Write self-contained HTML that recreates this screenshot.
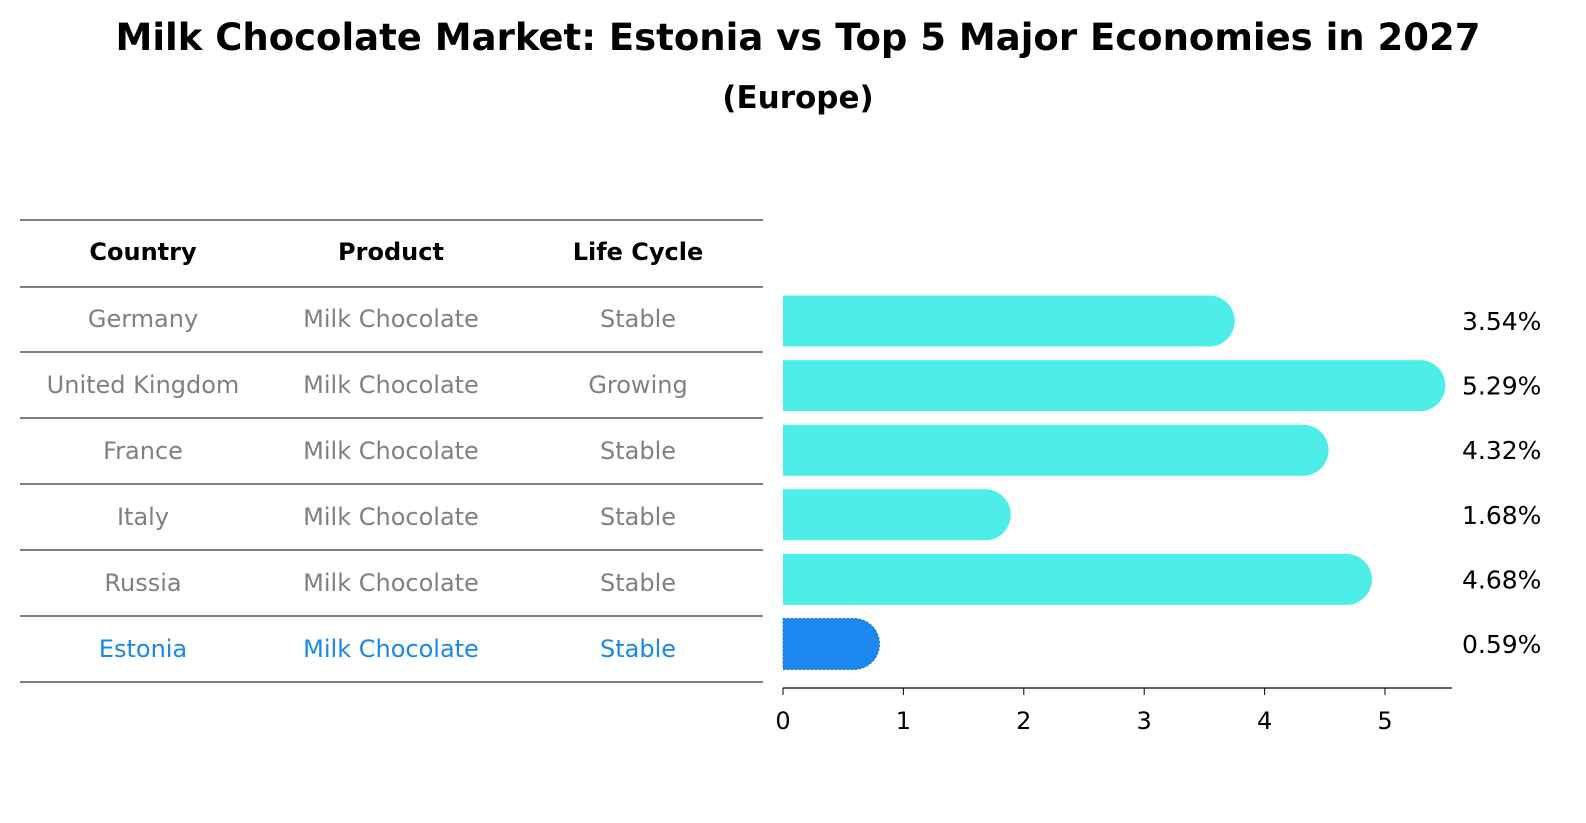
<!DOCTYPE html>
<html><head><meta charset="utf-8"><style>
html,body{margin:0;padding:0;width:1586px;height:823px;overflow:hidden;background:#fff;font-family:"Liberation Sans","DejaVu Sans",sans-serif;}
svg{display:block}
</style></head><body>
<svg id="chart" width="1586" height="823" viewBox="0 0 1586 823" font-family="DejaVu Sans, Liberation Sans, sans-serif">
<text x="798" y="50" text-anchor="middle" font-size="37" font-weight="bold">Milk Chocolate Market: Estonia vs Top 5 Major Economies in 2027</text>
<text x="798" y="108" text-anchor="middle" font-size="31" font-weight="bold">(Europe)</text>
<g id="table"></g>
<g id="bars"></g>
<g id="axis"></g>
</svg>
<script>
const countries=["Germany","United Kingdom","France","Italy","Russia","Estonia"];
const products=["Milk Chocolate","Milk Chocolate","Milk Chocolate","Milk Chocolate","Milk Chocolate","Milk Chocolate"];
const lifeCycles=["Stable","Growing","Stable","Stable","Stable","Stable"];
const growth=[3.54,5.29,4.32,1.68,4.68,0.59];
const tickValues=[0,1,2,3,4,5];

const NS="http://www.w3.org/2000/svg";
function mk(tag,attrs,parent){const e=document.createElementNS(NS,tag);for(const k in attrs)e.setAttribute(k,attrs[k]);parent.appendChild(e);return e;}
const x=v=>783+v*120.4;
const rowY=i=>321+i*64.6;
const tbl=document.getElementById('table');
const lineYs=[220,287,352,418,484,550,616,682];
lineYs.forEach(y=>{const l=mk('line',{x1:20,x2:763,y1:y,y2:y,stroke:'#000','stroke-width':1},tbl);

});
const colX=[143,391,638];
["Country","Product","Life Cycle"].forEach((h,j)=>{const t=mk('text',{x:colX[j],y:260,'text-anchor':'middle','font-size':24,'font-weight':'bold'},tbl);t.textContent=h;

});
countries.forEach((c,i)=>{const last=i===countries.length-1;const col=last?'#1a88e8':'#808080';
[c,products[i],lifeCycles[i]].forEach((v,j)=>{const t=mk('text',{x:colX[j],y:327+i*66,'text-anchor':'middle','font-size':24,fill:col},tbl);t.textContent=v;

});});
const bars=document.getElementById('bars');
growth.forEach((v,i)=>{const last=i===growth.length-1;const h=51,r=25.5,y=rowY(i)-h/2;const x0=x(0),x1=x(v);
const d=`M${x0},${y} H${x1} A${r},${r} 0 0 1 ${x1},${y+h} H${x0} Z`;
const p=mk('path',{d:d,fill:last?'#1a88f0':'#4deee8'},bars);
if(last){p.setAttribute('stroke','#1a6fd0');p.setAttribute('stroke-dasharray','2,2');}


const t=mk('text',{x:1462,y:rowY(i)+9,'font-size':25},bars);t.textContent=v.toFixed(2)+'%';

});
const ax=document.getElementById('axis');
mk('line',{x1:783,x2:1452,y1:688,y2:688,stroke:'#000','stroke-width':1.2},ax);
tickValues.forEach(v=>{mk('line',{x1:x(v),x2:x(v),y1:688,y2:695,stroke:'#000'},ax);
const t=mk('text',{x:x(v),y:729,'text-anchor':'middle','font-size':24},ax);t.textContent=v;

});
</script>
</body></html>
